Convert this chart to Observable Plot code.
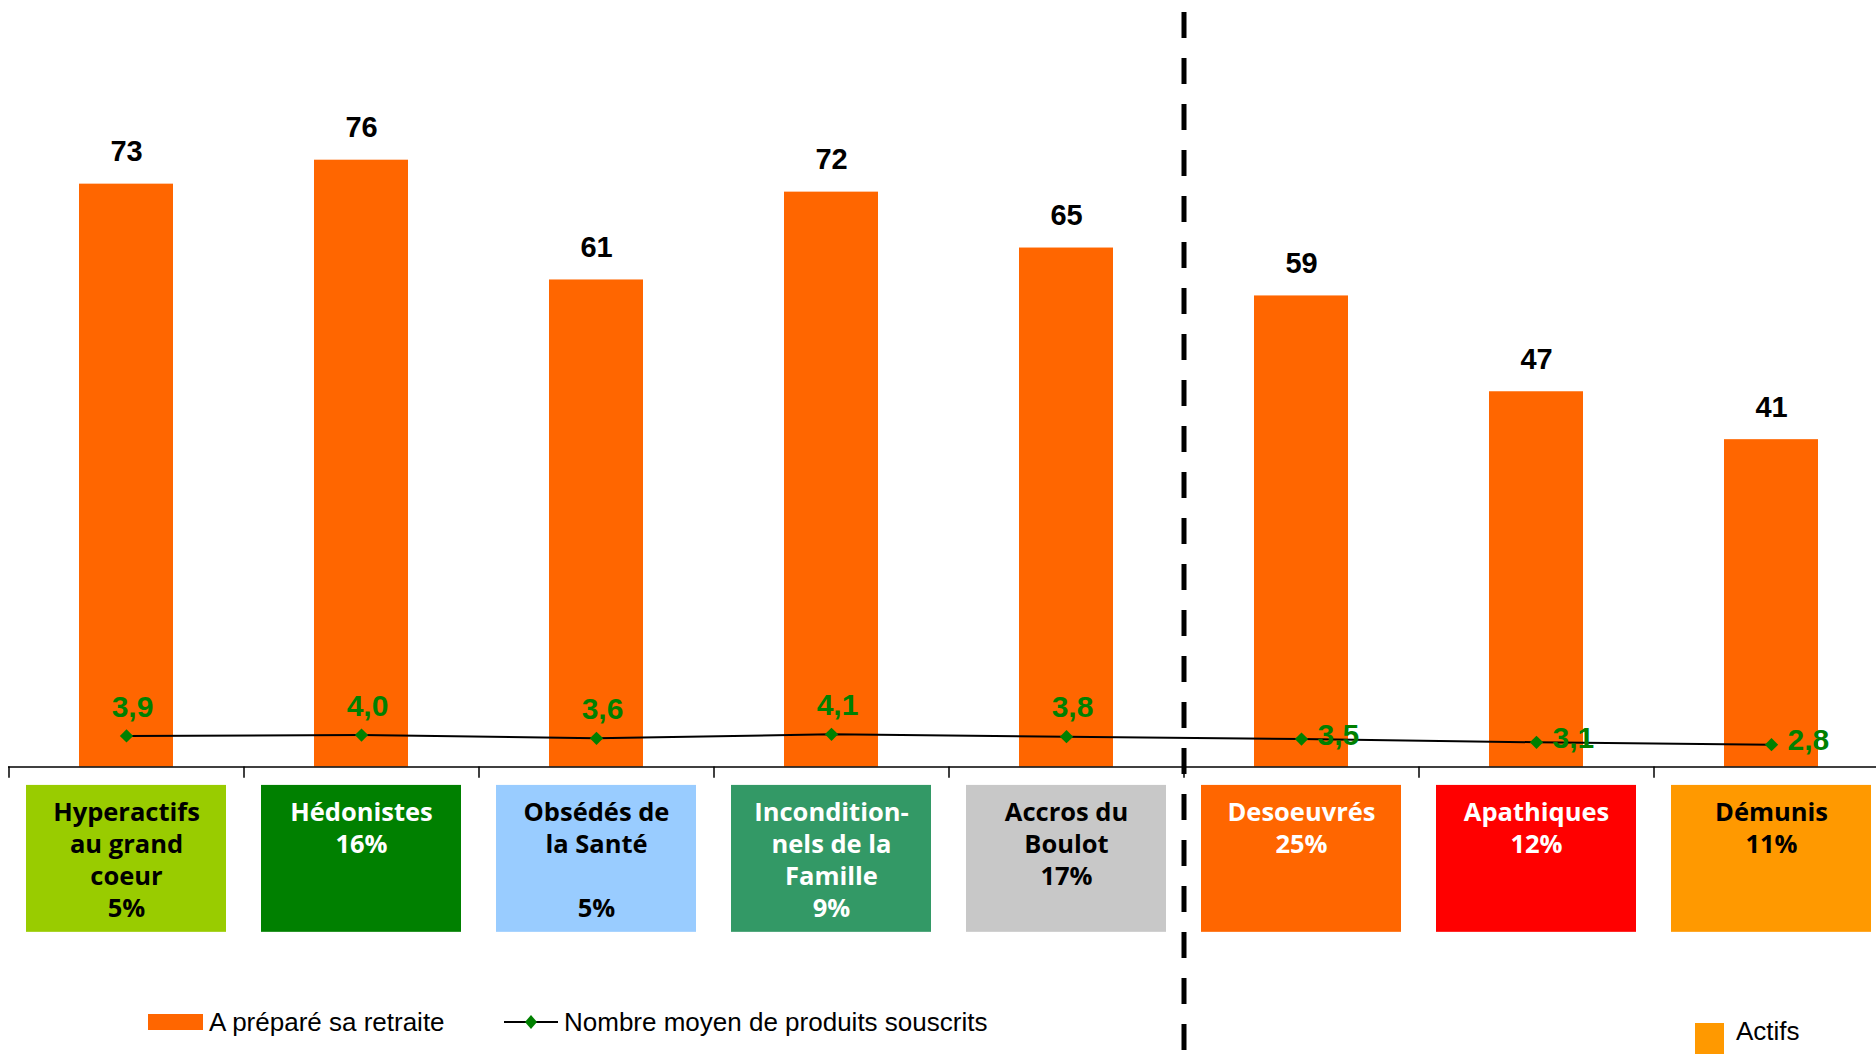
<!DOCTYPE html>
<html>
<head>
<meta charset="utf-8">
<script src="https://cdn.jsdelivr.net/npm/d3@7"></script>
<script src="https://cdn.jsdelivr.net/npm/@observablehq/plot@0.6"></script>
<style>
  html, body { margin: 0; padding: 0; background: #fff; }
  #wrap { position: relative; width: 1876px; height: 1054px; overflow: hidden; }
  .leg { position: absolute; font-family: "Liberation Sans", Arial, sans-serif; font-size: 26px; color: #000; white-space: nowrap; line-height: 30px; }
</style>
</head>
<body>
<div id="wrap"></div>
<script>
// ---- data ----
const categories = ["Hyperactifs au grand coeur", "Hédonistes", "Obsédés de la Santé", "Inconditionnels de la Famille", "Accros du Boulot", "Desoeuvrés", "Apathiques", "Démunis"];
const tickLabels = ["Hyperactifs\nau grand\ncoeur\n5%", "Hédonistes\n16%", "Obsédés de\nla Santé\n\n5%", "Incondition-\nnels de la\nFamille\n9%", "Accros du\nBoulot\n17%", "Desoeuvrés\n25%", "Apathiques\n12%", "Démunis\n11%"];
const prepared = [73, 76, 61, 72, 65, 59, 47, 41];
const products = [3.9, 4.0, 3.6, 4.1, 3.8, 3.5, 3.1, 2.8];
const boxColors = ["#99CC00", "#008000", "#99CCFF", "#339966", "#C8C8C8", "#FF6600", "#FF0000", "#FF9900"];
const boxTextColors = ["#000000", "#ffffff", "#000000", "#ffffff", "#000000", "#ffffff", "#ffffff", "#000000"];
const splitCategory = "Desoeuvrés";

const rows = categories.map((c, i) => ({
  cat: c, prepared: prepared[i], products: products[i],
  productLabel: products[i].toFixed(1).replace(".", ","),
  tick: tickLabels[i], fill: boxColors[i], textFill: boxTextColors[i], i
}));

// ---- layout ----
const W = 1876, H = 1054;
const xRange = [8, 1888];
const pInner = 0.6, pOuter = 0.3;
const step = (xRange[1] - xRange[0]) / (categories.length - pInner + 2 * pOuter);
const bw = step * (1 - pInner);
const boxWidth = 200;
const boxTop = -2.3, boxBottom = -20.7;
const narrow = "'Liberation Sans Narrow', 'Arial Narrow', 'Liberation Sans', Arial, sans-serif";

const chart = Plot.plot({
  width: W, height: H,
  marginTop: 0, marginBottom: 0, marginLeft: 8, marginRight: 0,
  x: { domain: categories, range: xRange, paddingInner: pInner, paddingOuter: pOuter, axis: null },
  y: { domain: [-36, 96], axis: null },
  style: { background: "transparent" },
  marks: [
    // category boxes (styled tick labels)
    Plot.barY(rows, { x: "cat", y1: boxTop, y2: boxBottom, fill: "fill",
      insetLeft: -(boxWidth - bw) / 2, insetRight: -(boxWidth - bw) / 2 }),
    Plot.text(rows, { x: "cat", y: boxTop, text: "tick", fill: "textFill", lineAnchor: "top", dy: 13,
      fontSize: 25.5, fontWeight: "bold", lineHeight: 1.25,
      fontFamily: "'Open Sans', 'Noto Sans', sans-serif" }),
    // bars
    Plot.barY(rows, { x: "cat", y: "prepared", fill: "#FF6600" }),
    Plot.text(rows, { x: "cat", y: "prepared", text: d => String(d.prepared), lineAnchor: "middle", dy: -32,
      fontSize: 29, fontWeight: "bold", fill: "#000", fontFamily: narrow }),
    // axis line with ticks at band boundaries
    Plot.ruleY([0], { stroke: "#000", strokeWidth: 1.5 }),
    Plot.ruleX(rows, { x: "cat", dx: -step / 2, y1: 0, y2: -1.4, stroke: "#000", strokeWidth: 1.5 }),
    // line series
    Plot.line(rows, { x: "cat", y: "products", stroke: "#000", strokeWidth: 2 }),
    Plot.dot(rows, { x: "cat", y: "products", symbol: "diamond2", r: 6, fill: "#008000", stroke: "none" }),
    Plot.text(rows.filter(d => d.i < 5), { x: "cat", y: "products", text: "productLabel", lineAnchor: "middle",
      dx: 6, dy: -29, fontSize: 30, fontWeight: "bold", fill: "#008000", fontFamily: narrow }),
    Plot.text(rows.filter(d => d.i >= 5), { x: "cat", y: "products", text: "productLabel", lineAnchor: "middle",
      textAnchor: "start", dx: 16, dy: -4, fontSize: 30, fontWeight: "bold", fill: "#008000", fontFamily: narrow }),
    // dashed separator
    Plot.ruleX([splitCategory], { x: d => d, dx: -step / 2, insetTop: 12, stroke: "#000", strokeWidth: 5,
      strokeDasharray: "26,20" })
  ]
});

const wrap = document.getElementById("wrap");
wrap.appendChild(chart);

// ---- legend ----
function add(html, style) {
  const d = document.createElement("div");
  d.className = "leg";
  d.innerHTML = html;
  Object.assign(d.style, style);
  wrap.appendChild(d);
}
add('<span style="display:inline-block;width:55px;height:16px;background:#FF6600;vertical-align:middle;margin-right:6px"></span><span style="vertical-align:middle">A préparé sa retraite</span>',
  { left: "148px", top: "1005px" });
add('<svg width="54" height="20" style="vertical-align:middle;margin-right:6px"><line x1="0" y1="10" x2="54" y2="10" stroke="#000" stroke-width="2"/><path d="M27,3 L33,10 L27,17 L21,10 Z" fill="#008000"/></svg><span style="vertical-align:middle">Nombre moyen de produits souscrits</span>',
  { left: "504px", top: "1005px" });
add('', { left: "1695px", top: "1023px", width: "29px", height: "31px", background: "#FF9900" });
add('Actifs', { left: "1736px", top: "1016px", fontFamily: "'Liberation Sans Narrow','Arial Narrow','Liberation Sans',sans-serif", fontSize: "26px" });
</script>
</body>
</html>
